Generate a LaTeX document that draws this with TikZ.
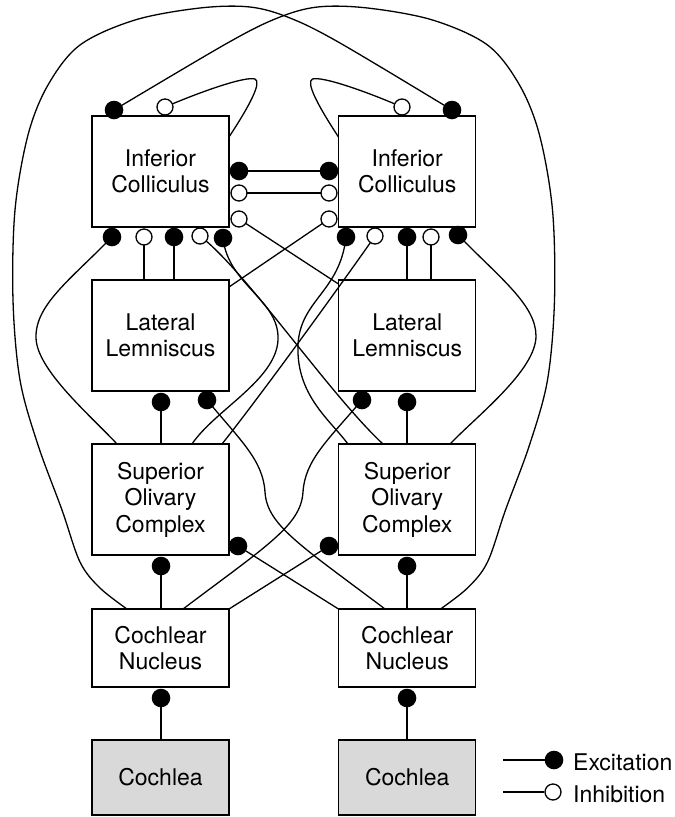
\documentclass[tikz,border=0pt]{standalone}
\usepackage{fontspec}
\setmainfont{TeX Gyre Heros}
\begin{document}
\begin{tikzpicture}[x=1pt,y=-1pt,
  box/.style={draw, line width=1.4pt, minimum width=137pt, minimum height=111pt, align=center, inner sep=0pt, font=\fontsize{23}{26.5}\selectfont},
  conn/.style={line width=1.3pt},
  exc/.style={circle, fill=black, minimum size=18.6pt, inner sep=0pt},
  inh/.style={circle, draw=black, fill=white, line width=1.3pt, minimum size=16pt, inner sep=0pt},
  lbl/.style={inner sep=0pt, anchor=base west, font=\fontsize{23}{26.5}\selectfont}]
\useasboundingbox (0,0) rectangle (675,817);
% boxes
\node[box] (icL) at (160.5,171.5) {Inferior\\Colliculus};
\node[box] (icR) at (407.25,171.5) {Inferior\\Colliculus};
\node[box] (llL) at (160.5,335.5) {Lateral\\Lemniscus};
\node[box] (llR) at (407.25,335.5) {Lateral\\Lemniscus};
\node[box] (socL) at (160.5,499.5) {Superior\\Olivary\\Complex};
\node[box] (socR) at (407.25,499.5) {Superior\\Olivary\\Complex};
\node[box, minimum height=78pt] (cnL) at (160.5,648) {Cochlear\\Nucleus};
\node[box, minimum height=78pt] (cnR) at (407.25,648) {Cochlear\\Nucleus};
\node[box, minimum height=75pt, fill=gray!30] (coL) at (160.5,777.5) {Cochlea};
\node[box, minimum height=75pt, fill=gray!30] (coR) at (407.25,777.5) {Cochlea};
% synapse positions
\coordinate (eLt) at (114,110);  \coordinate (iLt) at (165,107);
\coordinate (eLs1) at (239,171); \coordinate (iLs2) at (239,193); \coordinate (iLs3) at (239,219);
\coordinate (eLb1) at (112,237); \coordinate (iLb2) at (144,237); \coordinate (eLb3) at (174,237);
\coordinate (iLb4) at (200,236); \coordinate (eLb5) at (223,238);
\coordinate (iRt) at (402,107);  \coordinate (eRt) at (452,110);
\coordinate (eRs1) at (329,171); \coordinate (iRs2) at (329,193); \coordinate (iRs3) at (329,219);
\coordinate (eRb1) at (346,237); \coordinate (iRb2) at (375,236); \coordinate (eRb3) at (407,237);
\coordinate (iRb4) at (431,237); \coordinate (eRb5) at (458,235);
\coordinate (eLl1) at (161,402); \coordinate (eLl2) at (207,400);
\coordinate (eRl1) at (362,400); \coordinate (eRl2) at (407,402);
\coordinate (eLo1) at (161,566); \coordinate (eLo2) at (238,546);
\coordinate (eRo1) at (329,546); \coordinate (eRo2) at (407,566);
\coordinate (eLc) at (161,698);  \coordinate (eRc) at (407,698);
% free ends on boxes
\coordinate (cnLa) at (127,609); \coordinate (cnLb) at (183,609); \coordinate (cnLc) at (229,609);
\coordinate (cnRa) at (440.5,609); \coordinate (cnRb) at (385,609); \coordinate (cnRc) at (338.5,609);
\coordinate (socLa) at (117,444); \coordinate (socLc) at (192,444); \coordinate (socLd) at (222,444);
\coordinate (socRa) at (348,444); \coordinate (socRb) at (383,444); \coordinate (socRd) at (450,444);
\coordinate (llLa) at (229,287); \coordinate (llRa) at (338.5,284);
\coordinate (icLa) at (229,137); \coordinate (icRa) at (338.5,137);
% long outer loops
\draw[conn] plot[smooth,tension=0.55] coordinates {(cnLa) (100,588) (80,562) (62,510) (38,445) (20,380) (13,300) (15,210) (28,135) (48,85) (80,45) (135,20) (200,8) (250,7) (290,18) (340,43) (eRt)};
\draw[conn] plot[smooth,tension=0.55] coordinates {(cnRa) (467.5,588) (487.5,562) (505.5,510) (529.5,445) (547.5,380) (554.5,300) (552.5,210) (539.5,135) (519.5,85) (487.5,45) (432.5,20) (367.5,8) (317.5,7) (277.5,18) (227.5,43) (eLt)};
% self loops
\draw[conn] (icLa) .. controls (250,105) and (262,82) .. (255,79) .. controls (245,76) and (200,92) .. (iLt);
\draw[conn] (icRa) .. controls (317.5,105) and (305.5,82) .. (312.5,79) .. controls (322.5,76) and (367.5,92) .. (iRt);
% commissural
\draw[conn] (eLs1) -- (eRs1);
\draw[conn] (iLs2) -- (iRs2);
\draw[conn] (iLs3) -- (llRa);
\draw[conn] (iRs3) -- (llLa);
% SOC -> IC outer
\draw[conn] (eLb1) .. controls (70,280) and (35,305) .. (36,338) .. controls (37,370) and (90,415) .. (socLa);
\draw[conn] (eRb5) .. controls (500,278) and (536,305) .. (536,336) .. controls (536,370) and (478,415) .. (socRd);
% LL -> IC
\draw[conn] (iLb2) -- (iLb2 |- llL.north);
\draw[conn] (eLb3) -- (eLb3 |- llL.north);
\draw[conn] (eRb3) -- (eRb3 |- llR.north);
\draw[conn] (iRb4) -- (iRb4 |- llR.north);
% SOC -> IC middle
\draw[conn] (eLb5) .. controls (228,285) and (280,300) .. (278,340) .. controls (276,380) and (215,410) .. (socLc);
\draw[conn] (iLb4) .. controls (245,270) and (330,395) .. (socRb);
\draw[conn] (eRb1) .. controls (340,292) and (300,300) .. (298,345) .. controls (296,395) and (330,420) .. (socRa);
\draw[conn] (iRb2) .. controls (350,272) and (265,390) .. (socLd);
% SOC -> LL
\draw[conn] (eLl1) -- (eLl1 |- socL.north);
\draw[conn] (eRl2) -- (eRl2 |- socR.north);
% CN -> LL
\draw[conn] (eLl2) .. controls (240,440) and (263,460) .. (265,492) .. controls (267,525) and (300,545) .. (cnRb);
\draw[conn] (eRl1) .. controls (328,440) and (305,460) .. (303,492) .. controls (301,525) and (268,545) .. (cnLb);
% CN -> SOC
\draw[conn] (eLo1) -- (eLo1 |- cnL.north);
\draw[conn] (eRo2) -- (eRo2 |- cnR.north);
\draw[conn] (eLo2) -- (cnRc);
\draw[conn] (eRo1) -- (cnLc);
% cochlea -> CN
\draw[conn] (eLc) -- (eLc |- coL.north);
\draw[conn] (eRc) -- (eRc |- coR.north);
% synapse markers
\foreach \p in {eLt,eLs1,eLb1,eLb3,eLb5,eRt,eRs1,eRb1,eRb3,eRb5,eLl1,eLl2,eRl1,eRl2,eLo1,eLo2,eRo1,eRo2,eLc,eRc}
  \node[exc] (m-\p) at (\p) {};
\foreach \p in {iLt,iLs2,iLs3,iLb2,iLb4,iRt,iRs2,iRs3,iRb2,iRb4}
  \node[inh] (m-\p) at (\p) {};
% legend
\coordinate (lgE) at (503,760);
\coordinate (lgI) at (503,792);
\node[exc] (lgEc) at (554,760) {};
\node[inh] (lgIc) at (553,792) {};
\draw[conn] (lgE) -- (lgEc);
\draw[conn] (lgI) -- (lgIc);
\node[lbl] (lgEt) at (573,770) {Excitation};
\node[lbl] (lgIt) at (573,802) {Inhibition};
\end{tikzpicture}
\end{document}
